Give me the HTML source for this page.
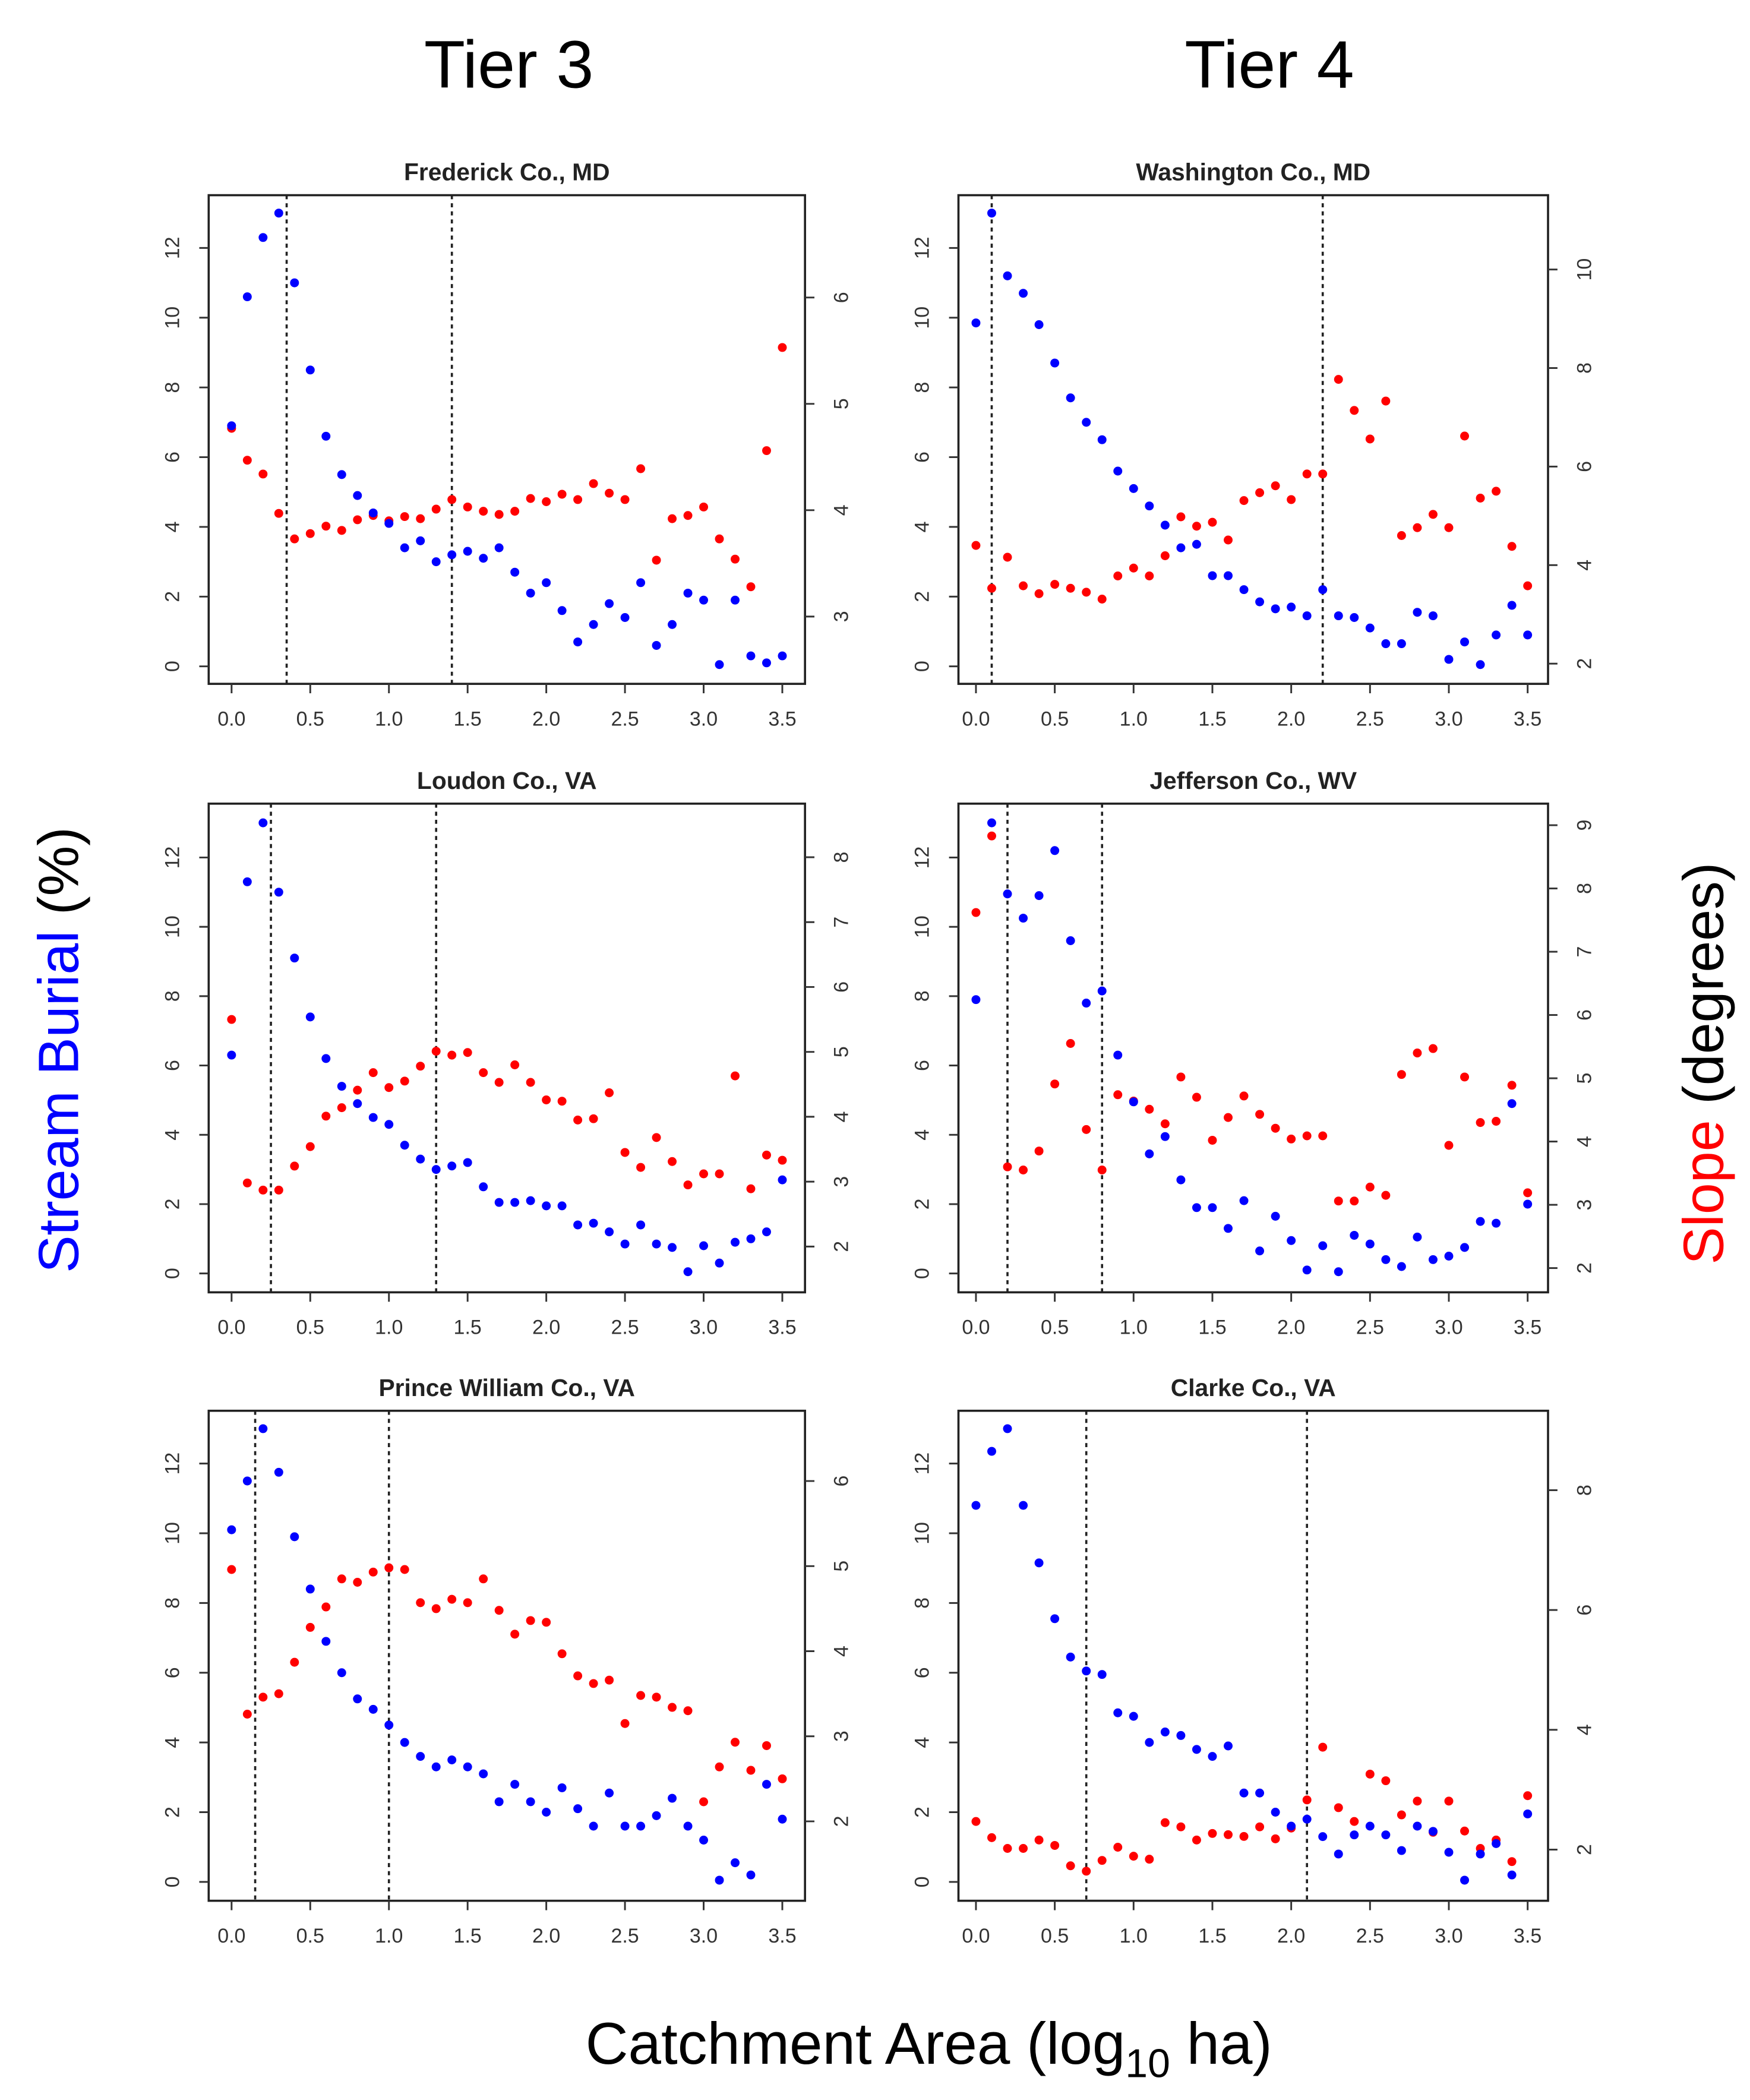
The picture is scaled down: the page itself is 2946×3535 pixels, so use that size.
<!DOCTYPE html>
<html><head><meta charset="utf-8">
<style>
html,body{margin:0;padding:0;background:#fff;}
svg{display:block;}
text{font-family:"Liberation Sans",Arial,sans-serif;}
</style></head>
<body>
<svg id="chart" width="2946" height="3535" viewBox="0 0 1300 1560" xmlns="http://www.w3.org/2000/svg">
<rect width="1300" height="1560" fill="#fff"/>
<text x="378" y="65" font-size="50" text-anchor="middle" fill="#000">Tier 3</text>
<text x="943" y="65" font-size="50" text-anchor="middle" fill="#000">Tier 4</text>
<text transform="translate(58,780) rotate(-90)" font-size="42" text-anchor="middle"><tspan fill="#0000ff">Stream Burial</tspan><tspan fill="#000"> (%)</tspan></text>
<text transform="translate(1280,790) rotate(-90)" font-size="42" text-anchor="middle"><tspan fill="#ff0000">Slope</tspan><tspan fill="#000"> (degrees)</tspan></text>
<text x="690" y="1533" font-size="44" text-anchor="middle" fill="#000">Catchment Area (log<tspan font-size="30" dy="10">10</tspan><tspan dy="-10"> ha)</tspan></text>
<g id="panels"></g>
</svg>
<script>
const xValues = [0,0.1,0.2,0.3,0.4,0.5,0.6,0.7,0.8,0.9,1.0,1.1,1.2,1.3,1.4,1.5,1.6,1.7,1.8,1.9,2.0,2.1,2.2,2.3,2.4,2.5,2.6,2.7,2.8,2.9,3.0,3.1,3.2,3.3,3.4,3.5];
const xTicks = [0,0.5,1,1.5,2,2.5,3,3.5];
const xTickLabels = ["0.0","0.5","1.0","1.5","2.0","2.5","3.0","3.5"];
const leftTicks = [0,2,4,6,8,10,12];
const panelTitles = ["Frederick Co., MD","Washington Co., MD","Loudon Co., VA","Jefferson Co., WV","Prince William Co., VA","Clarke Co., VA"];

const burialFrederick = [6.9,10.6,12.3,13.0,11.0,8.5,6.6,5.5,4.9,4.4,4.1,3.4,3.6,3.0,3.2,3.3,3.1,3.4,2.7,2.1,2.4,1.6,0.7,1.2,1.8,1.4,2.4,0.6,1.2,2.1,1.9,0.05,1.9,0.3,0.1,0.3];
const slopeFrederick = [4.77,4.47,4.34,3.97,3.73,3.78,3.85,3.81,3.91,3.95,3.9,3.94,3.92,4.01,4.1,4.03,3.99,3.96,3.99,4.11,4.08,4.15,4.1,4.25,4.16,4.1,4.39,3.53,3.92,3.95,4.03,3.73,3.54,3.28,4.56,5.53];
const burialWashington = [9.85,13.0,11.2,10.7,9.8,8.7,7.7,7.0,6.5,5.6,5.1,4.6,4.05,3.4,3.5,2.6,2.6,2.2,1.85,1.65,1.7,1.45,2.2,1.45,1.4,1.1,0.65,0.65,1.55,1.45,0.2,0.7,0.05,0.9,1.75,0.9];
const slopeWashington = [4.4,3.53,4.16,3.58,3.42,3.61,3.53,3.45,3.31,3.78,3.94,3.78,4.19,4.98,4.79,4.87,4.51,5.31,5.47,5.61,5.33,5.85,5.85,7.77,7.14,6.56,7.33,4.6,4.76,5.03,4.76,6.62,5.36,5.5,4.38,3.58];
const burialLoudon = [6.3,11.3,13.0,11.0,9.1,7.4,6.2,5.4,4.9,4.5,4.3,3.7,3.3,3.0,3.1,3.2,2.5,2.05,2.05,2.1,1.95,1.95,1.4,1.45,1.2,0.85,1.4,0.85,0.75,0.05,0.8,0.3,0.9,1.0,1.2,2.7];
const slopeLoudon = [5.5,2.98,2.87,2.87,3.24,3.54,4.01,4.14,4.41,4.68,4.45,4.55,4.78,5.01,4.95,4.99,4.68,4.53,4.8,4.53,4.26,4.24,3.95,3.97,4.37,3.45,3.22,3.68,3.31,2.95,3.12,3.12,4.63,2.89,3.41,3.33];
const burialJefferson = [7.9,13.0,10.95,10.25,10.9,12.2,9.6,7.8,8.15,6.3,4.95,3.45,3.95,2.7,1.9,1.9,1.3,2.1,0.65,1.65,0.95,0.1,0.8,0.05,1.1,0.85,0.4,0.2,1.05,0.4,0.5,0.75,1.5,1.45,4.9,2.0];
const slopeJefferson = [7.62,8.83,3.6,3.55,3.85,4.91,5.55,4.19,3.55,4.74,4.64,4.51,4.28,5.02,4.7,4.02,4.38,4.72,4.43,4.21,4.04,4.09,4.09,3.06,3.06,3.28,3.15,5.06,5.4,5.47,3.94,5.02,4.3,4.32,4.89,3.19];
const burialPrinceWilliam = [10.1,11.5,13.0,11.75,9.9,8.4,6.9,6.0,5.25,4.95,4.5,4.0,3.6,3.3,3.5,3.3,3.1,2.3,2.8,2.3,2.0,2.7,2.1,1.6,2.55,1.6,1.6,1.9,2.4,1.6,1.2,0.05,0.55,0.2,2.8,1.8];
const slopePrinceWilliam = [4.96,3.26,3.46,3.5,3.87,4.28,4.52,4.85,4.81,4.93,4.98,4.96,4.57,4.5,4.61,4.57,4.85,4.48,4.2,4.36,4.34,3.97,3.71,3.62,3.66,3.15,3.48,3.46,3.34,3.3,2.23,2.64,2.93,2.6,2.89,2.5];
const burialClarke = [10.8,12.35,13.0,10.8,9.15,7.55,6.45,6.05,5.95,4.85,4.75,4.0,4.3,4.2,3.8,3.6,3.9,2.55,2.55,2.0,1.6,1.8,1.3,0.8,1.35,1.6,1.35,0.9,1.6,1.45,0.85,0.05,0.8,1.1,0.2,1.95];
const slopeClarke = [2.47,2.2,2.02,2.02,2.16,2.07,1.73,1.64,1.82,2.04,1.89,1.84,2.45,2.38,2.16,2.27,2.25,2.22,2.38,2.18,2.36,2.83,3.71,2.7,2.47,3.26,3.15,2.58,2.81,2.29,2.81,2.31,2.02,2.16,1.8,2.9];

const thresholds1 = [0.35,1.4];
const thresholds2 = [0.1,2.2];
const thresholds3 = [0.25,1.3];
const thresholds4 = [0.2,0.8];
const thresholds5 = [0.15,1.0];
const thresholds6 = [0.7,2.1];

const rightTicks1 = [3,4,5,6];
const rightTicks2 = [2,4,6,8,10];
const rightTicks3 = [2,3,4,5,6,7,8];
const rightTicks4 = [2,3,4,5,6,7,8,9];
const rightTicks5 = [2,3,4,5,6];
const rightTicks6 = [2,4,6,8];

const burialSeries = [burialFrederick,burialWashington,burialLoudon,burialJefferson,burialPrinceWilliam,burialClarke];
const slopeSeries = [slopeFrederick,slopeWashington,slopeLoudon,slopeJefferson,slopePrinceWilliam,slopeClarke];
const thresholdSets = [thresholds1,thresholds2,thresholds3,thresholds4,thresholds5,thresholds6];
const rightTickSets = [rightTicks1,rightTicks2,rightTicks3,rightTicks4,rightTicks5,rightTicks6];

const layout = [
 {bx:155,bw:443,by:145,bh:363,x0:172,xs:116.9,y0:495,ys:25.9,rRef:4,rPix:379,rs:79},
 {bx:712,bw:438,by:145,bh:363,x0:725,xs:117.1,y0:495,ys:25.9,rRef:2,rPix:493,rs:36.6},
 {bx:155,bw:443,by:597,bh:363,x0:172,xs:116.9,y0:946,ys:25.75,rRef:2,rPix:926,rs:48.2},
 {bx:712,bw:438,by:597,bh:363,x0:725,xs:117.1,y0:946,ys:25.75,rRef:2,rPix:942,rs:47},
 {bx:155,bw:443,by:1048,bh:364,x0:172,xs:116.9,y0:1398,ys:25.9,rRef:2,rPix:1353,rs:63.2},
 {bx:712,bw:438,by:1048,bh:364,x0:725,xs:117.1,y0:1398,ys:25.9,rRef:2,rPix:1374,rs:44.5}
];
const NS='http://www.w3.org/2000/svg';
const root=document.getElementById('panels');
function mk(tag,attrs,parent){const e=document.createElementNS(NS,tag);for(const k in attrs)e.setAttribute(k,attrs[k]);parent.appendChild(e);return e;}
const tickCol='#333';
layout.forEach((L,i)=>{
 const g=mk('g',{},root);
 
 
 const xS=v=>L.x0+v*L.xs;
 const yL=v=>L.y0-v*L.ys;
 const yR=v=>L.rPix-(v-L.rRef)*L.rs;
 const t=mk('text',{x:L.bx+L.bw/2,y:L.by-11,'font-size':18,'font-weight':'bold','text-anchor':'middle',fill:'#222'},g);
 t.textContent=panelTitles[i];
 
 
 const box=mk('rect',{x:L.bx,y:L.by,width:L.bw,height:L.bh,fill:'none',stroke:'#222','stroke-width':1.6},g);
 
 
 const bot=L.by+L.bh;
 xTicks.forEach((v,k)=>{
  const x=xS(v);
  mk('line',{x1:x,x2:x,y1:bot,y2:bot+7,stroke:tickCol,'stroke-width':1.3},g);
  const lb=mk('text',{x:x,y:bot+31,'font-size':15,'text-anchor':'middle',fill:tickCol},g);
  lb.textContent=xTickLabels[k];
  
  
 });
 leftTicks.forEach(v=>{
  const y=yL(v);
  mk('line',{x1:L.bx-7,x2:L.bx,y1:y,y2:y,stroke:tickCol,'stroke-width':1.3},g);
  const lb=mk('text',{transform:`translate(${L.bx-22},${y}) rotate(-90)`,'font-size':15,'text-anchor':'middle',fill:tickCol},g);
  lb.textContent=String(v);
  
  
 });
 const rx=L.bx+L.bw;
 rightTickSets[i].forEach(v=>{
  const y=yR(v);
  mk('line',{x1:rx,x2:rx+7,y1:y,y2:y,stroke:tickCol,'stroke-width':1.3},g);
  const lb=mk('text',{transform:`translate(${rx+32},${y}) rotate(-90)`,'font-size':15,'text-anchor':'middle',fill:tickCol},g);
  lb.textContent=String(v);
  
  
 });
 thresholdSets[i].forEach(v=>{
  const x=xS(v);
  const ln=mk('line',{x1:x,x2:x,y1:L.by,y2:bot,stroke:'#222','stroke-width':1.6,'stroke-dasharray':'3,3'},g);
  
  
 });
 slopeSeries[i].forEach((v,k)=>{
  const c=mk('circle',{cx:xS(xValues[k]),cy:yR(v),r:3.3,fill:'#ff0000'},g);
  
  
 });
 burialSeries[i].forEach((v,k)=>{
  const c=mk('circle',{cx:xS(xValues[k]),cy:yL(v),r:3.3,fill:'#0000ff'},g);
  
  
 });
});
</script>
</body></html>
